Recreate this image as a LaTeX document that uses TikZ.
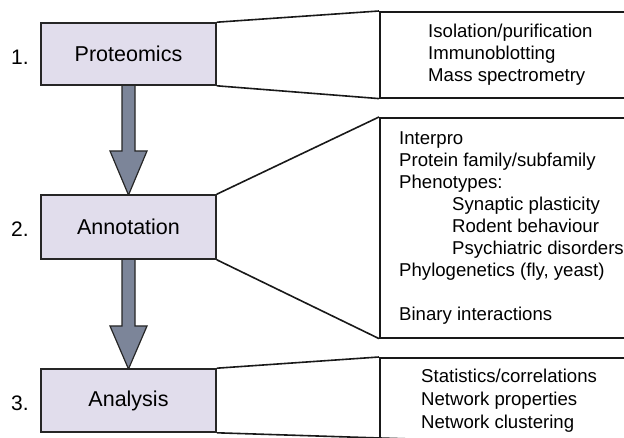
\documentclass[tikz,border=0pt]{standalone}
\usepackage{fontspec}
\setmainfont{Liberation Sans}
\usetikzlibrary{calc}
\definecolor{boxfill}{HTML}{E1DDEC}
\definecolor{arrowfill}{HTML}{7C8599}
\begin{document}
\begin{tikzpicture}[x=1pt,y=-1pt,
  stage/.style={draw=black!85, line width=1.6pt, fill=boxfill, minimum width=175pt, inner sep=0pt, font=\fontsize{21.5}{24}\selectfont},
  detail/.style={draw=black!90, line width=1.6pt, inner sep=0pt, minimum width=280pt, anchor=north west},
  callout/.style={draw=black!90, line width=1.6pt},
  info/.style={anchor=west, inner sep=0pt, align=left, font=\fontsize{18.6}{22}\selectfont},
  num/.style={inner sep=0pt, font=\fontsize{21}{24}\selectfont},
  flow/.style={draw=black!85, line width=1.2pt, fill=arrowfill, line join=miter}]
\useasboundingbox (0,0) rectangle (624,438);
\clip (0,0) rectangle (624,438);

% stage boxes (positions)
\coordinate (pc) at (128.5,54);
\coordinate (ac) at (128.5,227);
\coordinate (nc) at (128.5,400.5);

% arrows (drawn first, boxes on top)
\path (pc) ++(0,31) coordinate (ps);
\path (ac) ++(0,-32) coordinate (an);
\path (ac) ++(0,32) coordinate (as);
\path (nc) ++(0,-31.5) coordinate (nn);

\draw[flow] ($(ps)+(-6.5,0)$) -- ($(an)+(-6.5,-44)$) -- ($(an)+(-18.5,-44)$) -- (an)
  -- ($(an)+(18.5,-44)$) -- ($(an)+(6.5,-44)$) -- ($(ps)+(6.5,0)$) -- cycle;
\draw[flow] ($(as)+(-6.5,0)$) -- ($(nn)+(-6.5,-43)$) -- ($(nn)+(-18.5,-43)$) -- (nn)
  -- ($(nn)+(18.5,-43)$) -- ($(nn)+(6.5,-43)$) -- ($(as)+(6.5,0)$) -- cycle;

\node[stage, minimum height=62pt] (p) at (pc) {Proteomics};
\node[stage, minimum height=64pt] (a) at (ac) {Annotation};
\node[stage, minimum height=63pt] (n) at (nc) {Analysis};

\node[num] (n1) at (20,57) {1.};
\node[num] (n2) at (20,229) {2.};
\node[num] (n3) at (20,403) {3.};

% detail boxes
\node[detail, minimum height=86pt] (d1) at (379,11) {};
\node[detail, minimum height=220pt] (d2) at (379,117) {};
\node[detail, minimum height=110pt] (d3) at (379,357) {};

% callout lines
\draw[callout] (p.north east) -- (d1.north west);
\draw[callout] (p.south east) -- (d1.south west);
\draw[callout] (a.north east) -- (d2.north west);
\draw[callout] (a.south east) -- (d2.south west);
\draw[callout] (n.north east) -- (d3.north west);
\draw[callout] (n.south east) -- ($(n.south east)!2!(380,438)$);

% texts
\node[info] (t1) at (428,55) {Isolation/purification\\Immunoblotting\\Mass spectrometry};
\node[info] (t2) at (399,228) {Interpro\\Protein family/subfamily\\Phenotypes:\\
  \hspace*{53pt}Synaptic plasticity\\\hspace*{53pt}Rodent behaviour\\\hspace*{53pt}Psychiatric disorders\\
  Phylogenetics (fly, yeast)\\[22pt]Binary interactions};
\node[info, font=\fontsize{18.6}{23}\selectfont] (t3) at (421,401) {Statistics/correlations\\Network properties\\Network clustering};
\end{tikzpicture}
\end{document}
